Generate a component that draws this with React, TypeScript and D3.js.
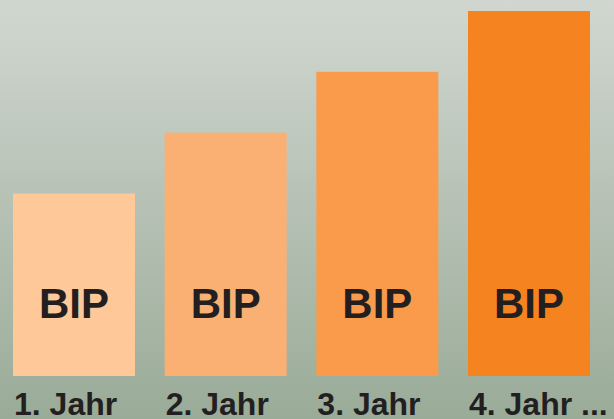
import React from "react";
import * as d3 from "d3";

const categories = ["1. Jahr", "2. Jahr", "3. Jahr", "4. Jahr ..."];
const values = [3, 4, 5, 6];
const barLabels = ["BIP", "BIP", "BIP", "BIP"];
const colors = ["#fec899", "#fbb073", "#f99b4a", "#f5831f"];

const W = 614;
const H = 419;

export default function App() {
  const x = d3.scaleBand<string>().domain(categories).range([13, 590]).paddingInner(0.1956).paddingOuter(0);
  const y = d3.scaleLinear().domain([0, 6]).range([376, 11]);
  return (
    <svg width={W} height={H} style={{ position: "absolute", left: 0, top: 0 }}>
      <defs>
        <linearGradient id="bg" x1="0" y1="0" x2="0" y2="1">
          <stop offset="0" stopColor="#d1d7d0" />
          <stop offset="1" stopColor="#9aab98" />
        </linearGradient>
      </defs>
      <rect x={0} y={0} width={W} height={H} fill="url(#bg)" />
      {categories.map((c, i) => {
        const bx = x(c)!;
        const bw = x.bandwidth();
        return (
          <g key={c}>
            <rect x={bx} y={y(values[i])} width={bw} height={y(0) - y(values[i])} fill={colors[i]} />
            <text
              x={bx + bw / 2}
              y={318}
              textAnchor="middle"
              fontFamily="Liberation Sans, Arial, sans-serif"
              fontWeight="bold"
              fontSize={42}
              fill="#231f20"
            >
              {barLabels[i]}
            </text>
            <text
              x={bx + 1}
              y={415}
              fontFamily="Liberation Sans, Arial, sans-serif"
              fontWeight="bold"
              fontSize={32}
              fill="#231f20"
            >
              {c}
            </text>
          </g>
        );
      })}
    </svg>
  );
}
